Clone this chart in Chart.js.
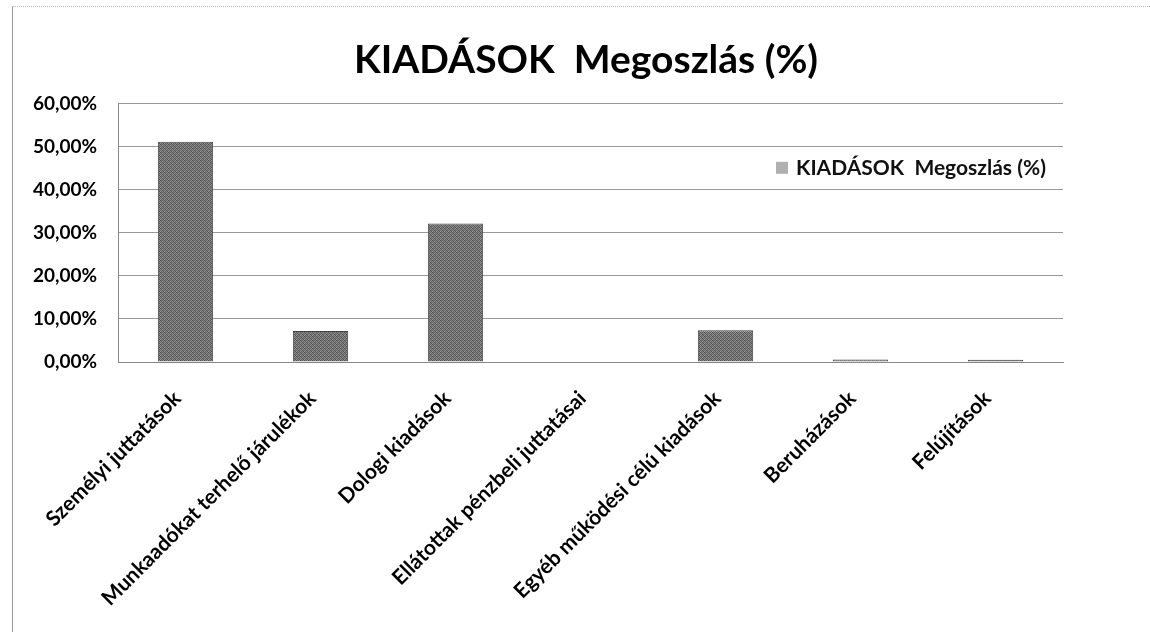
<!DOCTYPE html>
<html>
<head>
<meta charset="utf-8">
<script src="https://cdn.jsdelivr.net/npm/chart.js@4.4.1/dist/chart.umd.min.js"></script>
<style>
    body { margin: 0; background: #fff; }
    .chart-box { position: relative; width: 1150px; height: 632px; }
    .frame {
        position: absolute; left: 12px; top: 6px; right: 0; bottom: 0;
        border-left: 1px solid #999; border-top: 1px dotted #bbb;
        pointer-events: none;
    }
</style>
</head>
<body>
<div class="chart-box">
    <canvas id="myChart"></canvas>
    <div class="frame"></div>
</div>
<script>
var categories = [
    'Személyi juttatások',
    'Munkaadókat terhelő járulékok',
    'Dologi kiadások',
    'Ellátottak pénzbeli juttatásai',
    'Egyéb működési célú kiadások',
    'Beruházások',
    'Felújítások'
];
var shares = [51.2, 7.2, 32.2, 0, 7.4, 0.6, 0.5];
var yTicks = [0, 10, 20, 30, 40, 50, 60];
var seriesLabel = 'KIADÁSOK  Megoszlás (%)';

var FONT = "Lato, 'Open Sans', sans-serif";

// grainy grey fill for the bars
function barPattern() {
    var shades = [
        '#505050', '#808080', '#626262', '#8e8e8e',
        '#848484', '#585858', '#949494', '#646464',
        '#6c6c6c', '#909090', '#4e4e4e', '#7c7c7c',
        '#989898', '#5e5e5e', '#888888', '#545454'
    ];
    var c = document.createElement('canvas');
    c.width = 4; c.height = 4;
    var g = c.getContext('2d');
    for (var i = 0; i < 16; i++) {
        g.fillStyle = shades[i];
        g.fillRect(i % 4, Math.floor(i / 4), 1, 1);
    }
    return g.createPattern(c, 'repeat');
}

function pct(v) {
    return v.toFixed(2).replace('.', ',') + '%';
}

// legend sits inside the plot, upper right
var innerLegend = {
    id: 'innerLegend',
    afterDraw: function (chart) {
        var ctx = chart.ctx;
        var area = chart.chartArea;
        var ds = chart.data.datasets[0];
        var x = area.right - 287;
        var y = area.top + 64;
        ctx.save();
        ctx.fillStyle = '#b0b0b0';
        ctx.fillRect(x, y - 6, 12, 12);
        ctx.fillStyle = '#111';
        ctx.font = 'bold 21px ' + FONT;
        ctx.textBaseline = 'middle';
        ctx.fillText(ds.label, x + 20, y);
        ctx.restore();
    }
};

const ctx = document.getElementById('myChart').getContext('2d');
const myChart = new Chart(ctx, {
    type: 'bar',
    data: {
        labels: categories,
        datasets: [{
            label: seriesLabel,
            data: shares,
            backgroundColor: barPattern(),
            borderColor: '#444',
            borderWidth: 1,
            barPercentage: 0.41,
            categoryPercentage: 1
        }]
    },
    options: {
        responsive: true,
        maintainAspectRatio: false,
        animation: false,
        layout: { padding: { left: 22, right: 0, top: 0, bottom: 0 } },
        plugins: {
            legend: { display: false },
            tooltip: { enabled: false },
            title: {
                display: true,
                text: seriesLabel,
                color: '#000',
                font: { family: FONT, size: 39, weight: 'bold', lineHeight: 1.2 },
                padding: { top: 37, bottom: 20 }
            }
        },
        scales: {
            x: {
                grid: { display: false },
                border: { display: true, color: '#888', width: 1 },
                ticks: {
                    color: '#000',
                    font: { family: FONT, size: 21, weight: 'bold' },
                    minRotation: 45,
                    maxRotation: 45,
                    autoSkip: false,
                    padding: 16,
                    labelOffset: -8
                },
                afterFit: function (s) { s.height = 270; }
            },
            y: {
                min: 0,
                max: 60,
                afterBuildTicks: function (s) {
                    s.ticks = yTicks.map(function (v) { return { value: v }; });
                },
                grid: { color: '#999', lineWidth: 1, drawTicks: false },
                border: { display: true, color: '#888', width: 1 },
                ticks: {
                    color: '#000',
                    padding: 21,
                    font: { family: FONT, size: 19, weight: 'bold' },
                    callback: function (v) { return pct(v); }
                },
                afterFit: function (s) { s.width = 96; }
            },
            // empty column on the right so the plot stops short of the edge
            pad: {
                position: 'right',
                display: true,
                grid: { display: false },
                border: { display: false },
                ticks: { display: false },
                afterFit: function (s) { s.width = 87; }
            }
        }
    },
    plugins: [innerLegend]
});
</script>
</body>
</html>
